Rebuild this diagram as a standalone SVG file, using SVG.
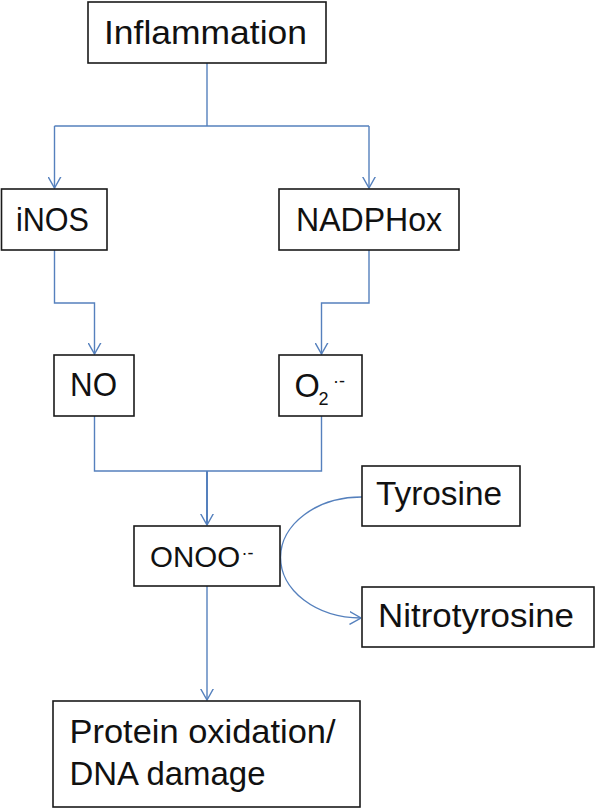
<svg xmlns="http://www.w3.org/2000/svg" width="596" height="809" viewBox="0 0 596 809">
<style>
.box{fill:#fff;stroke:#1a1a1a;stroke-width:1.6}
.t{font-family:"Liberation Sans",Arial,sans-serif;font-size:32.5px;fill:#111}
.c{fill:none;stroke:#5580bd;stroke-width:1.4}
</style>
<defs>
<marker id="ar" markerUnits="userSpaceOnUse" viewBox="0 0 12 14" refX="11.5" refY="7" markerWidth="12" markerHeight="14" orient="auto">
<path d="M0,0.5 L11.5,7 L0,13.5" fill="none" stroke="#5580bd" stroke-width="1.4"/>
</marker>
</defs>
<rect width="596" height="809" fill="#fff"/>
<g id="connectors">
<path class="c" d="M207,63 V126"/>
<path class="c" d="M54.5,126 H369"/>
<path class="c" d="M54.5,126 V188" marker-end="url(#ar)"/>
<path class="c" d="M369,126 V188" marker-end="url(#ar)"/>
<path class="c" d="M54.5,250 V303 H94.5 V354" marker-end="url(#ar)"/>
<path class="c" d="M369,250 V303 H321.5 V354" marker-end="url(#ar)"/>
<path class="c" d="M94.5,416 V471 H321.5 V416"/>
<path class="c" d="M207,471 V525" marker-end="url(#ar)" style="stroke-width:2"/>
<path class="c" d="M207,586 V700" marker-end="url(#ar)"/>
<path class="c" d="M362,497 A81,60.5 0 0 0 361,618" marker-end="url(#ar)"/>
</g>
<g id="inflammation">
<rect class="box" x="88" y="2" width="238" height="61"/>
<text class="t" x="104" y="44" textLength="203" lengthAdjust="spacingAndGlyphs">Inflammation</text>
</g>
<g id="inos">
<rect class="box" x="1.5" y="189" width="105.5" height="61"/>
<text class="t" x="16" y="231" textLength="73" lengthAdjust="spacingAndGlyphs">iNOS</text>
</g>
<g id="nadphox">
<rect class="box" x="279" y="189" width="180" height="61"/>
<text class="t" x="296" y="231" textLength="146" lengthAdjust="spacingAndGlyphs">NADPHox</text>
</g>
<g id="no">
<rect class="box" x="54" y="355" width="80" height="61"/>
<text class="t" x="70" y="396" textLength="47" lengthAdjust="spacingAndGlyphs">NO</text>
</g>
<g id="o2">
<rect class="box" x="279" y="355" width="83" height="61"/>
<text class="t" x="294.5" y="396.5">O<tspan x="318.5" y="405" style="font-size:18px">2</tspan><tspan x="333" y="387" style="font-size:18px">·-</tspan></text>
</g>
<g id="tyrosine">
<rect class="box" x="362" y="466" width="158" height="60"/>
<text class="t" x="376" y="505" textLength="126" lengthAdjust="spacingAndGlyphs">Tyrosine</text>
</g>
<g id="onoo">
<rect class="box" x="134" y="526" width="146" height="60"/>
<text class="t" x="150" y="567" style="font-size:29.5px">ONOO<tspan x="241.5" y="558.5" style="font-size:18px">·-</tspan></text>
</g>
<g id="nitrotyrosine">
<rect class="box" x="362" y="587" width="232" height="60"/>
<text class="t" x="378" y="627" textLength="196" lengthAdjust="spacingAndGlyphs">Nitrotyrosine</text>
</g>
<g id="damage">
<rect class="box" x="53" y="701" width="307" height="106"/>
<text class="t" x="69.5" y="743" textLength="266" lengthAdjust="spacingAndGlyphs">Protein oxidation/</text>
<text class="t" x="69.5" y="785" textLength="196" lengthAdjust="spacingAndGlyphs">DNA damage</text>
</g>
</svg>
